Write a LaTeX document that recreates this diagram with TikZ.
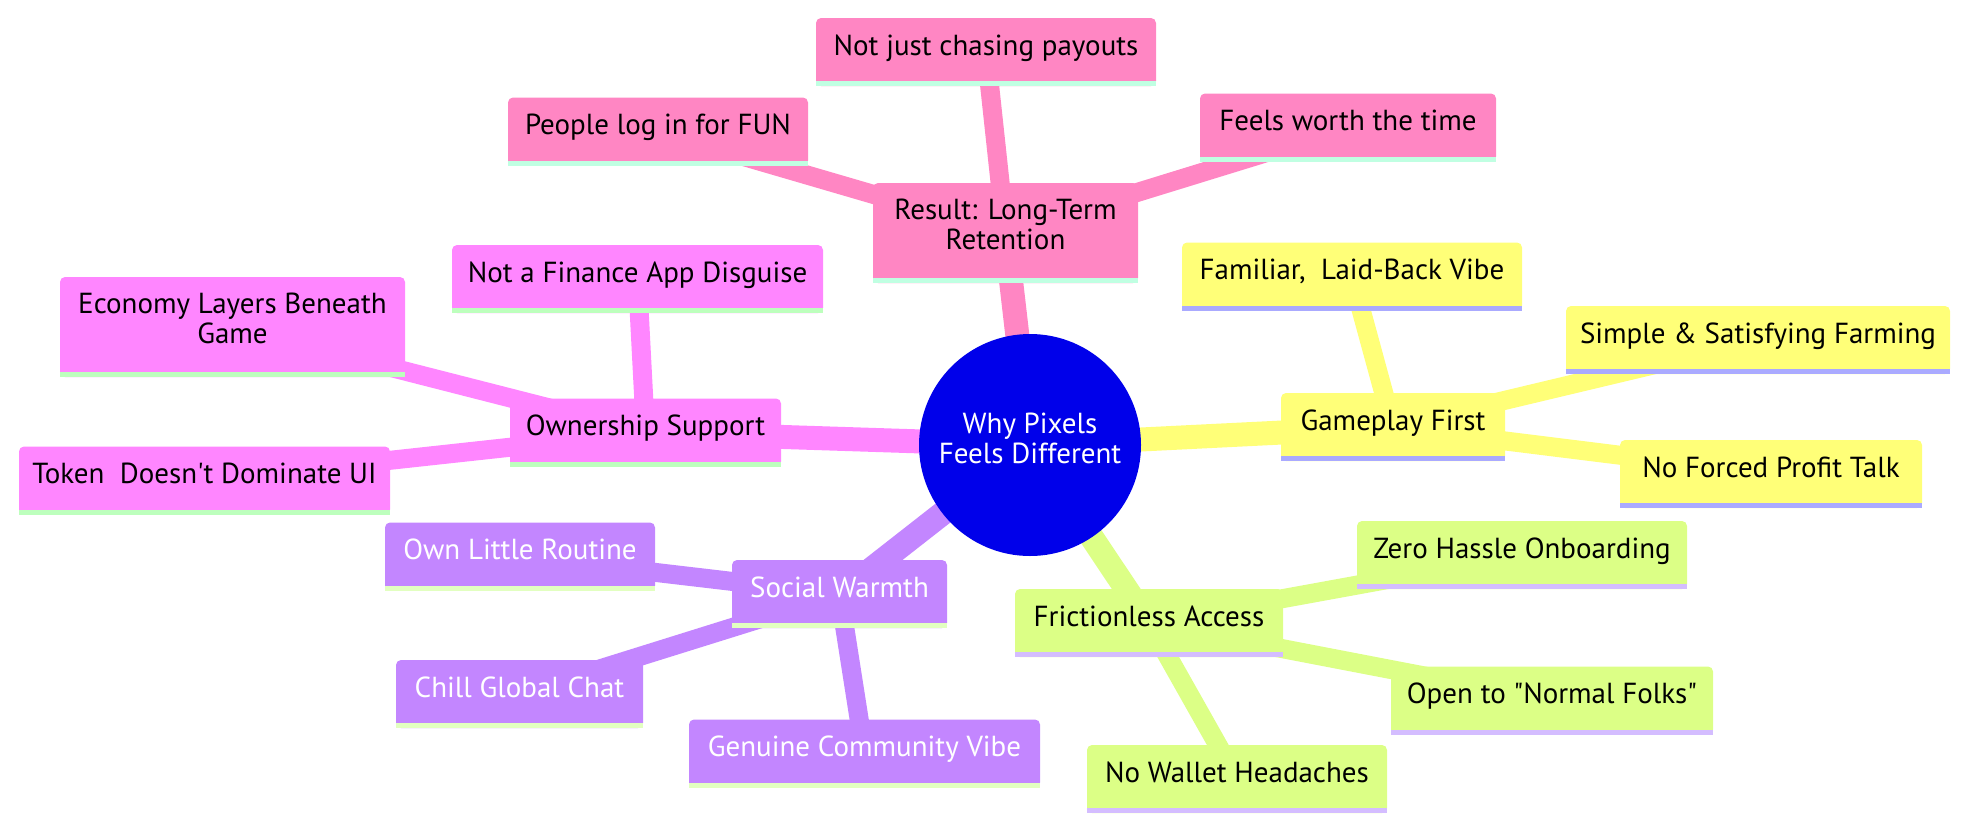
\documentclass[tikz,border=0pt]{standalone}
\usepackage{fontspec}
\setmainfont{PT Sans}[Ligatures=TeXOff]
\usetikzlibrary{backgrounds}
\definecolor{rootblue}{RGB}{0,0,234}
\definecolor{respink}{RGB}{255,134,195}
\definecolor{resline}{RGB}{192,255,226}
\definecolor{ownpink}{RGB}{255,134,255}
\definecolor{ownline}{RGB}{189,255,189}
\definecolor{socpurple}{RGB}{195,134,255}
\definecolor{socline}{RGB}{226,255,192}
\definecolor{friclime}{RGB}{220,255,134}
\definecolor{fricline}{RGB}{212,189,255}
\definecolor{gameyellow}{RGB}{255,255,120}
\definecolor{gameline}{RGB}{170,170,255}
\begin{document}
\begin{tikzpicture}[x=1pt, y=-1pt, font=\fontsize{29pt}{30pt}\selectfont,
	box/.style={rounded corners=5pt, inner sep=0pt, minimum height=68pt, text height=20pt, text depth=14pt},
	tallbox/.style={rounded corners=5pt, inner sep=0pt, minimum height=100pt, align=center, execute at end node={\rule[-17pt]{0pt}{17pt}}}]
	\useasboundingbox (0,0) rectangle (1969,828);
	\node[circle, fill=rootblue, minimum size=222pt, inner sep=0pt, align=center, text=white, execute at end node={\rule[-14pt]{0pt}{14pt}}] (root) at (1030,445) {Why Pixels\\Feels Different};
	
	\node[tallbox, fill=respink, minimum width=265pt] (res) at (1005.5,233) {Result: Long-Term\\Retention};
	\node[box, fill=respink, minimum width=300pt] (fun) at (658,131.5) {People log in for FUN};
	\node[box, fill=respink, minimum width=340pt] (payout) at (986,52) {Not just chasing payouts};
	\node[box, fill=respink, minimum width=296pt] (worth) at (1348,127.5) {Feels worth the time};
	
	\node[box, fill=ownpink, minimum width=271pt] (own) at (645.5,432.5) {Ownership Support};
	\node[tallbox, fill=ownpink, minimum width=345pt] (econ) at (232.5,327) {Economy Layers Beneath\\Game};
	\node[box, fill=ownpink, minimum width=371pt] (finance) at (637.5,279) {Not a Finance App Disguise};
	\node[box, fill=ownpink, minimum width=371pt] (token) at (204.5,480.5) {Token~ Doesn't Dominate UI};
	
	\node[box, fill=socpurple, text=white, minimum width=215pt] (social) at (839.5,594) {Social Warmth};
	\node[box, fill=socpurple, text=white, minimum width=270pt] (routine) at (520,556.5) {Own Little Routine};
	\node[box, fill=socpurple, text=white, minimum width=247pt] (chat) at (519.5,694) {Chill Global Chat};
	\node[box, fill=socpurple, text=white, minimum width=351pt] (vibe) at (864.5,753.5) {Genuine Community Vibe};
	
	\node[box, fill=friclime, minimum width=268pt] (fric) at (1149,623) {Frictionless Access};
	\node[box, fill=friclime, minimum width=330pt] (zero) at (1522,555) {Zero Hassle Onboarding};
	\node[box, fill=friclime, minimum width=322pt] (folks) at (1552,700.5) {Open to "Normal Folks"};
	\node[box, fill=friclime, minimum width=300pt] (wallet) at (1237,779) {No Wallet Headaches};
	
	\node[box, fill=gameyellow, minimum width=224pt] (game) at (1393,427) {Gameplay First};
	\node[box, fill=gameyellow, minimum width=340pt] (familiar) at (1352,276.5) {Familiar,~ Laid-Back Vibe};
	\node[box, fill=gameyellow, minimum width=384pt] (farm) at (1758,340) {Simple \& Satisfying Farming};
	\node[box, fill=gameyellow, minimum width=302pt] (profit) at (1771,474) {No Forced Profit Talk};
	
	\foreach \n/\c in {res/resline,fun/resline,payout/resline,worth/resline,own/ownline,econ/ownline,finance/ownline,token/ownline,social/socline,routine/socline,chat/socline,vibe/socline,fric/fricline,zero/fricline,folks/fricline,wallet/fricline,game/gameline,familiar/gameline,farm/gameline,profit/gameline}
	\fill[\c](\n.south west)rectangle([yshift=5pt]\n.south east);
	
	\begin{scope}[on background layer]
		\foreach \a/\b/\c in {root/res/respink,root/own/ownpink,root/social/socpurple,root/fric/friclime,root/game/gameyellow}
		\draw[line width=24pt,\c](\a.center)--(\b.center);
		\foreach \a/\b/\c in {res/fun/respink,res/payout/respink,res/worth/respink,own/econ/ownpink,own/finance/ownpink,own/token/ownpink,social/routine/socpurple,social/chat/socpurple,social/vibe/socpurple,fric/zero/friclime,fric/folks/friclime,fric/wallet/friclime,game/familiar/gameyellow,game/farm/gameyellow,game/profit/gameyellow}
		\draw[line width=19pt,\c](\a.center)--(\b.center);
	\end{scope}
\end{tikzpicture}
\end{document}
